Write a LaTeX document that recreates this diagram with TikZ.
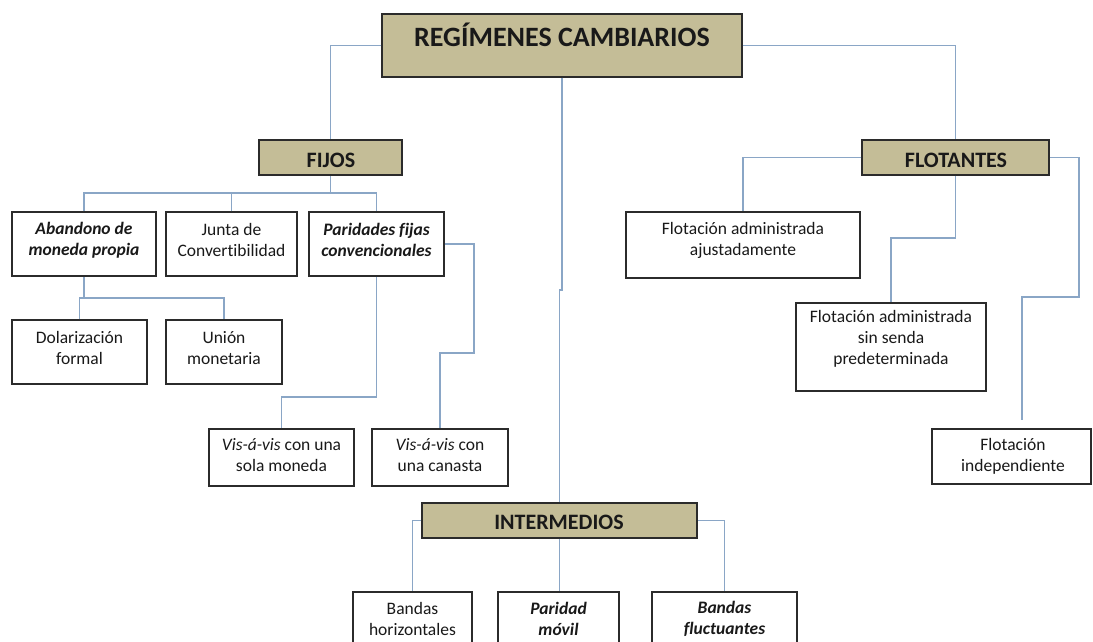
\documentclass[tikz,border=0pt]{standalone}
\usepackage{fontspec}
\setmainfont{Carlito}[Ligatures=NoCommon]
\definecolor{tanfill}{HTML}{C4BD97}
\definecolor{linkc}{HTML}{8AA6C6}
\definecolor{edgec}{HTML}{2B2B2B}
\begin{document}
\begin{tikzpicture}[x=1pt,y=-1pt,
  bx/.style={draw=edgec, line width=1.5pt, fill=white, inner sep=0pt, rectangle},
  hd/.style={bx, fill=tanfill},
  txt/.style={align=center, inner sep=0pt, font=\fontsize{17.5}{21}\selectfont, text=black!90},
  txtbi/.style={txt, font=\fontsize{17.5}{21}\selectfont\bfseries\itshape},
  hdtxt/.style={inner sep=0pt, anchor=base, font=\fontsize{22}{26}\selectfont\bfseries, text=black!90},
  link/.style={draw=linkc, line width=1.4pt}]
\useasboundingbox (0,0) rectangle (1093,642);
\fill[white] (0,0) rectangle (1093,642);
\clip (0,0) rectangle (1093,642);

% head boxes
\node[hd, minimum width=360pt, minimum height=63pt] (reg) at (562,45.5) {};
\node[hdtxt, font=\fontsize{28}{32}\selectfont\bfseries] (reg-t) at (562,47) {REGÍMENES CAMBIARIOS};
\node[hd, minimum width=143pt, minimum height=35pt] (fijos) at (330.5,157.5) {};
\node[hdtxt] (fijos-t) at (331,167.5) {FIJOS};
\node[hd, minimum width=187pt, minimum height=35pt] (flot) at (955.5,157.5) {};
\node[hdtxt] (flot-t) at (956,167) {FLOTANTES};
\node[hd, minimum width=275pt, minimum height=35pt] (inter) at (559.5,520.5) {};
\node[hdtxt] (inter-t) at (559,529) {INTERMEDIOS};

% FIJOS children
\node[bx, minimum width=144pt, minimum height=64pt] (aband) at (84,244) {};
\node[txtbi] (aband-t) at (84,240) {Abandono de\\moneda propia};
\node[bx, minimum width=131pt, minimum height=64pt] (junta) at (231.5,244) {};
\node[txt] (junta-t) at (231.5,240) {Junta de\\Convertibilidad};
\node[bx, minimum width=135pt, minimum height=64pt] (parid) at (376.5,244) {};
\node[txtbi] (parid-t) at (376.5,240) {Paridades fijas\\convencionales};
\node[bx, minimum width=135pt, minimum height=64pt] (dolar) at (79.5,352) {};
\node[txt] (dolar-t) at (79.5,348) {Dolarización\\formal};
\node[bx, minimum width=116pt, minimum height=64pt] (union) at (224,352) {};
\node[txt] (union-t) at (224,348) {Unión\\monetaria};
\node[bx, minimum width=145pt, minimum height=57pt] (sola) at (281.5,457.5) {};
\node[txt] (sola-t) at (281.5,455.5) {\textit{Vis-á-vis} con una\\sola moneda};
\node[bx, minimum width=136pt, minimum height=57pt] (canasta) at (440,457.5) {};
\node[txt] (canasta-t) at (440,455.5) {\textit{Vis-á-vis} con\\una canasta};

% FLOTANTES children
\node[bx, minimum width=234pt, minimum height=66pt] (ajust) at (743,245) {};
\node[txt] (ajust-t) at (743,240) {Flotación administrada\\ajustadamente};
\node[bx, minimum width=190pt, minimum height=88pt] (senda) at (891,347) {};
\node[txt] (senda-t) at (891,339) {Flotación administrada\\sin senda\\predeterminada};
\node[bx, minimum width=159pt, minimum height=55pt] (indep) at (1011.5,456.5) {};
\node[txt] (indep-t) at (1013,456.5) {Flotación\\independiente};

% INTERMEDIOS children
\node[bx, minimum width=119pt, minimum height=60pt] (hor) at (412.5,622) {};
\node[txt] (hor-t) at (412.5,618.5) {Bandas\\horizontales};
\node[bx, minimum width=121pt, minimum height=60pt] (movil) at (558.5,622) {};
\node[txtbi] (movil-t) at (558.5,618.5) {Paridad\\móvil};
\node[bx, minimum width=145pt, minimum height=60pt] (fluct) at (724.5,622) {};
\node[txtbi] (fluct-t) at (724.5,618.5) {Bandas\\fluctuantes};

% connectors
\draw[link] (reg.west) -| (fijos.north);
\draw[link] (reg.east) -| (flot.north);
\draw[link] (reg.south) -- (reg.south |- 0,290) -| (inter.north);

\coordinate (busF) at (0,193);
\draw[link] (fijos.south) -- (fijos.south |- busF);
\draw[link] (aband.north) |- (parid.north |- busF) -- (parid.north);
\draw[link] (junta.north) -- (junta.north |- busF);

\coordinate (busA) at (0,298);
\draw[link] (aband.south) -- (aband.south |- busA);
\draw[link] (dolar.north) |- (union.north |- busA) -- (union.north);

\draw[link] (parid.east) -| (474,353) -| (canasta.north);
\draw[link] (parid.south) -- (parid.south |- 0,397) -| (sola.north);

\draw[link] (flot.west) -| (ajust.north);
\draw[link] (flot.south) -- (flot.south |- 0,238) -| (senda.north);
\coordinate (indEnd) at (1022,420);
\draw[link] (flot.east) -| (1079,297) -| (indEnd);

\draw[link] (inter.west) -| (hor.north);
\draw[link] (inter.east) -| (fluct.north);
\draw[link] (inter.south) -- (inter.south |- movil.north);
\end{tikzpicture}
\end{document}
